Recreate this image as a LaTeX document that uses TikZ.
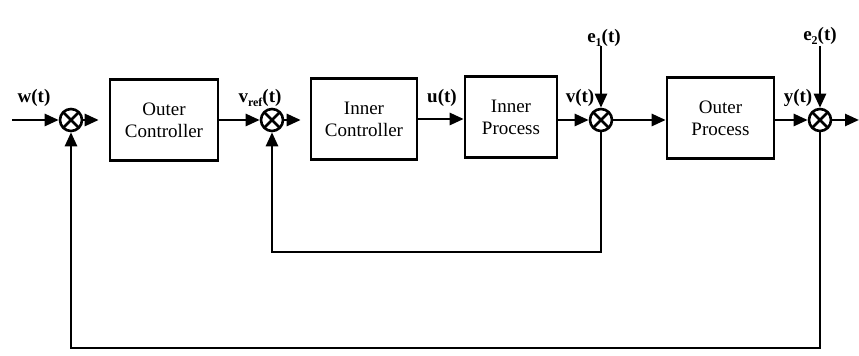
\documentclass[tikz,border=0pt]{standalone}
\usepackage{fontspec}
\setmainfont{Liberation Serif}
\usetikzlibrary{arrows.meta}

% signal name with a lowered index, e.g. e_1(t)
\newcommand{\sig}[2]{#1\raisebox{-0.5ex}{\fontsize{6}{6}\selectfont #2}(t)}

\begin{document}
\begin{tikzpicture}[x=0.5pt,y=-0.5pt,line width=1.3pt,
  >={Triangle[length=7pt,width=6pt]},
  block/.style={draw,minimum height=40.5pt,align=center,
    font=\fontsize{9.5}{11}\selectfont},
  sum/.style={draw,circle,minimum size=11pt,inner sep=0pt,
    path picture={\draw (path picture bounding box.north west) -- (path picture bounding box.south east)
      (path picture bounding box.north east) -- (path picture bounding box.south west);}},
  lab/.style={font=\fontsize{9.5}{10}\selectfont\bfseries,inner sep=0pt}]

\useasboundingbox (0,0) rectangle (859,356);

% blocks
\node[block,minimum width=54pt]   (oc) at (164,120)   {Outer\\Controller};
\node[block,minimum width=53pt]   (ic) at (364,119)   {Inner\\Controller};
\node[block,minimum width=46pt]   (ip) at (511,117)   {Inner\\Process};
\node[block,minimum width=53.5pt] (op) at (720.5,118) {Outer\\Process};

% summing points
\node[sum] (s1) at (71,120)  {};
\node[sum] (s2) at (272,120) {};
\node[sum] (s3) at (601,120) {};
\node[sum] (s4) at (820,120) {};

% free ends
\coordinate (in)  at (12,120);
\coordinate (out) at (859,120);
\coordinate (d1)  at (601,46);
\coordinate (d2)  at (820,46);
\coordinate (ib)  at (436,252);
\coordinate (ob)  at (445,348);

% forward path
\draw[->] (in) -- (s1);
\draw[->,shorten >=5pt] (s1) -- (s1 -| oc.west);
\draw[->] (oc.east |- s2) -- (s2);
\draw[->,shorten >=4.5pt] (s2) -- (s2 -| ic.west);
\draw[->] (ic) -- (ic -| ip.west);
\draw[->] (ip.east |- s3) -- (s3);
\draw[->] (s3) -- (s3 -| op.west);
\draw[->] (op.east |- s4) -- (s4);
\draw[->] (s4) -- (out);

% disturbances
\draw[->] (d1) -- (s3);
\draw[->] (d2) -- (s4);

% feedback loops
\draw[->] (s3) |- (ib) -| (s2);
\draw[->] (s4) |- (ob) -| (s1);

% signal names
\node[lab] (lw)  at (34,98)  {w(t)};
\node[lab] (lv0) at (260,98) {\sig{v}{ref}};
\node[lab] (lu)  at (442,98) {u(t)};
\node[lab] (lv)  at (580,98) {v(t)};
\node[lab] (le1) at (604,38) {\sig{e}{1}};
\node[lab] (ly)  at (798,98) {y(t)};
\node[lab] (le2) at (820,36) {\sig{e}{2}};
\end{tikzpicture}
\end{document}
